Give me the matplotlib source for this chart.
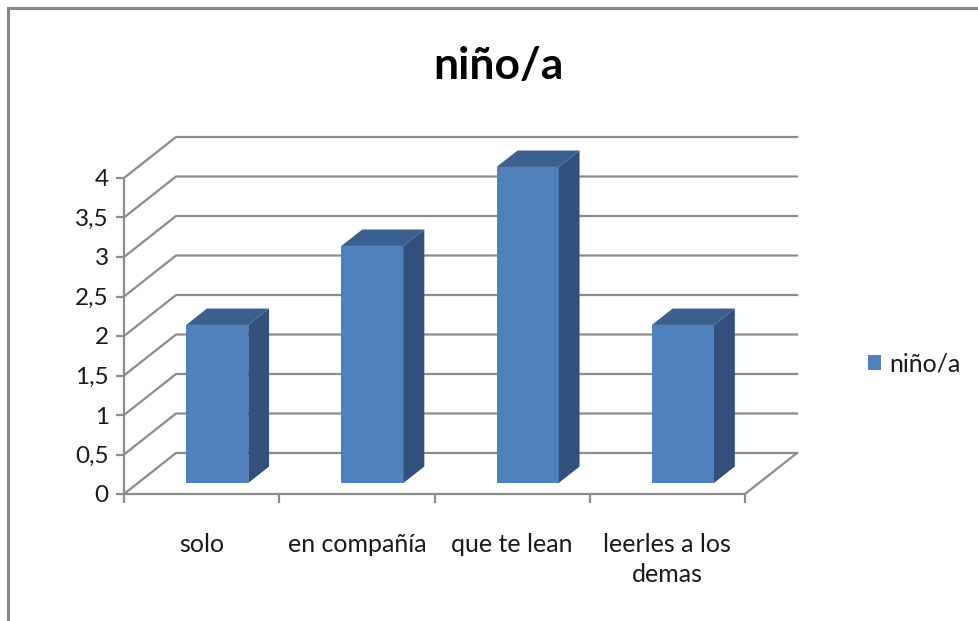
import matplotlib.pyplot as plt
import numpy as np
from matplotlib.patches import Polygon, Rectangle, Patch

# data
categories = ["solo", "en compañía", "que te lean", "leerles a los\ndemas"]
values = [2, 3, 4, 2]
series_name = "niño/a"
y_ticks = [0, 0.5, 1, 1.5, 2, 2.5, 3, 3.5, 4]
y_labels = ["0", "0,5", "1", "1,5", "2", "2,5", "3", "3,5", "4"]

plt.rcParams['font.family'] = ['Lato', 'DejaVu Sans']

front_col = '#4F81BD'
side_col = '#31507C'
top_col = '#3B5F8E'
grid_col = '#8C8C8C'
txt_col = '#1A1A1A'

W, H = 979, 621
fig = plt.figure(figsize=(W / 100, H / 100), dpi=100)

# outer chart border
fig.patches.append(Rectangle((8 / W, -0.1), 1.2, (H - 8) / H + 0.1, transform=fig.transFigure,
                             fill=False, edgecolor='#888888', linewidth=2.2))

# front plane of the 3d plot
ax = fig.add_axes([124 / W, 127 / H, 621 / W, 316 / H])
n = len(categories)
ax.set_xlim(0, n)
ax.set_ylim(0, 4)

# depth of the walls in data units
DX = 52 / (621 / n)
DY = 41 / 79.0

# back wall gridlines and side diagonals
for v in y_ticks:
    ax.plot([0, DX, n + DX], [v, v + DY, v + DY], color=grid_col, lw=1.6, clip_on=False, zorder=1)
# floor right edge
ax.plot([n, n + DX], [0, DY], color=grid_col, lw=1.6, clip_on=False, zorder=1)

# bars
f0, fd = 0.27, 0.40
bar_w = 0.40
for i, val in enumerate(values):
    x0 = i + 0.31 + f0 * DX
    y0 = f0 * DY
    x1 = x0 + bar_w
    y1 = y0 + val
    ddx, ddy = fd * DX, fd * DY
    ax.add_patch(Polygon([(x0, y0), (x1, y0), (x1, y1), (x0, y1)], closed=True,
                         facecolor=front_col, edgecolor='none', zorder=3, clip_on=False))
    ax.add_patch(Polygon([(x1, y0), (x1 + ddx, y0 + ddy), (x1 + ddx, y1 + ddy), (x1, y1)], closed=True,
                         facecolor=side_col, edgecolor='none', zorder=3, clip_on=False))
    ax.add_patch(Polygon([(x0, y1), (x1, y1), (x1 + ddx, y1 + ddy), (x0 + ddx, y1 + ddy)], closed=True,
                         facecolor=top_col, edgecolor='none', zorder=3, clip_on=False))

ax.patch.set_visible(False)
for s in ['top', 'right']:
    ax.spines[s].set_visible(False)
for s in ['left', 'bottom']:
    ax.spines[s].set_color(grid_col)
    ax.spines[s].set_linewidth(1.6)

ax.set_yticks(y_ticks)
ax.set_yticklabels(y_labels)
ax.tick_params(axis='y', direction='out', length=6, width=1.6, color=grid_col,
               labelsize=17.5, labelcolor=txt_col, pad=5)

ax.set_xticks(np.arange(n + 1))
ax.set_xticklabels([])
ax.set_xticks(np.arange(n) + 0.5, minor=True)
ax.set_xticklabels(categories, minor=True)
ax.tick_params(axis='x', which='major', direction='out', length=6.5, width=1.6, color=grid_col)
ax.tick_params(axis='x', which='minor', length=0, pad=28, labelsize=18, labelcolor=txt_col)
for t in ax.get_xticklabels(minor=True):
    t.set_linespacing(1.4)

fig.text(498 / W, 1 - 66 / H, series_name, ha='center', va='center',
         fontsize=32, fontweight='bold', color='black')

fig.legend(handles=[Patch(facecolor=front_col, edgecolor='none', label=series_name)],
           loc='center left', bbox_to_anchor=(868 / W, 1 - 364 / H), frameon=False,
           fontsize=18, handlelength=0.52, handleheight=0.52, handletextpad=0.35,
           borderpad=0, borderaxespad=0, labelcolor=txt_col)

fig.savefig('out.png', dpi=100)
